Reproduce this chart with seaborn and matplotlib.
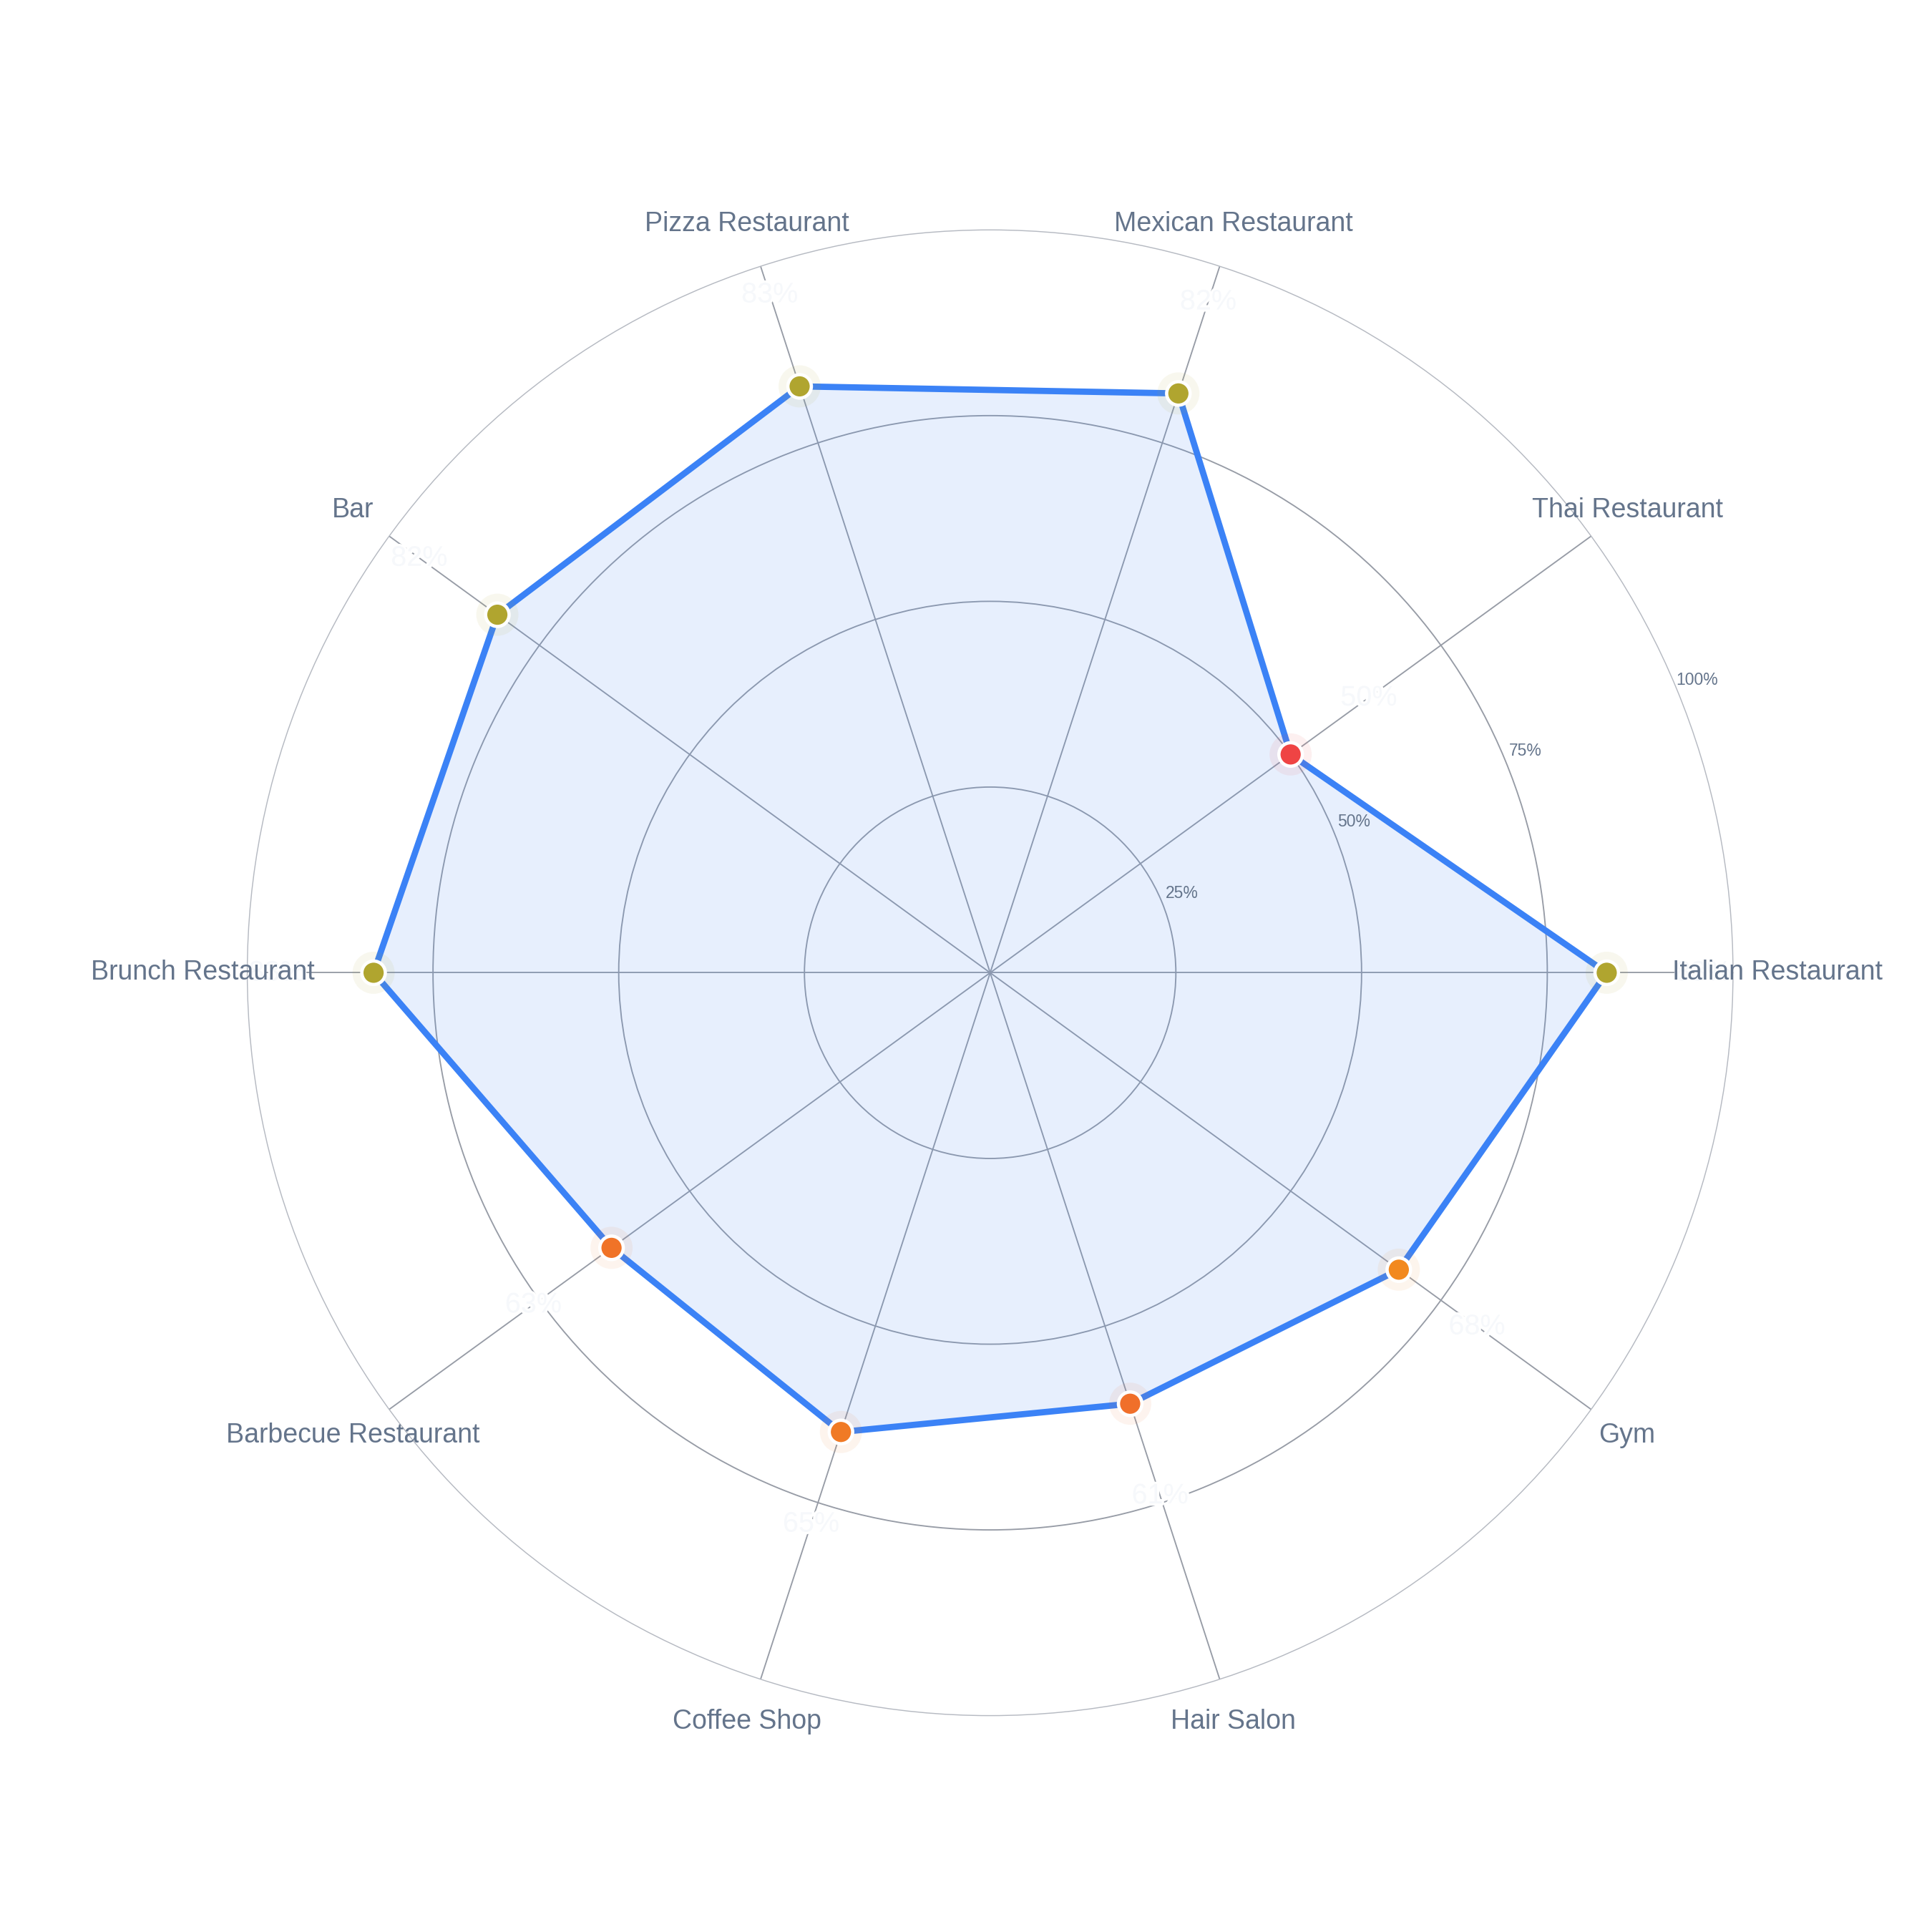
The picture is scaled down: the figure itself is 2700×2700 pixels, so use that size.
import numpy as np
import matplotlib
matplotlib.use("Agg")
import matplotlib.pyplot as plt
import matplotlib.patheffects as pe
import seaborn as sns

# data
categories = ["Italian Restaurant", "Thai Restaurant", "Mexican Restaurant", "Pizza Restaurant",
              "Bar", "Brunch Restaurant", "Barbecue Restaurant", "Coffee Shop", "Hair Salon", "Gym"]
values = [83, 50, 82, 83, 82, 83, 63, 65, 61, 68]
point_colors = ["#B0A52F", "#EF4444", "#B0A52F", "#B0A52F", "#B0A52F", "#B0A52F",
                "#F07327", "#F07A25", "#F06F2A", "#F2891E"]
radial_ticks = [25, 50, 75, 100]
radial_labels = ["25%", "50%", "75%", "100%"]

sns.set_theme(style="white")
plt.rcParams["font.family"] = ["Liberation Sans", "DejaVu Sans"]

label_col = "#64748b"
grid_col = "#979ca6"
line_col = "#3B82F6"

fig = plt.figure(figsize=(9, 9), dpi=300)
ax = fig.add_axes([0.128, 0.112, 0.769, 0.769], projection="polar")

angles = np.deg2rad(np.arange(len(categories)) * 360 / len(categories))
a_closed = np.append(angles, angles[0])
v_closed = np.append(values, values[0])

ax.set_ylim(0, 100)
ax.set_yticks(radial_ticks[:-1])
ax.set_yticklabels([])
ax.set_xticks(angles)
ax.set_xticklabels([])
ax.grid(True, color=grid_col, linewidth=0.45)
ax.spines["polar"].set_color("#b6bac2")
ax.spines["polar"].set_linewidth(0.35)
ax.set_facecolor("white")

# filled area + outline
ax.fill(a_closed, v_closed, color=line_col, alpha=0.12, linewidth=0, zorder=2)
ax.plot(a_closed, v_closed, color=line_col, linewidth=2.1, zorder=3, solid_joinstyle="miter")

# faint halo behind markers, then the markers
ax.scatter(angles, values, s=200, c=point_colors, alpha=0.08, linewidths=0, zorder=4)
sns.scatterplot(x=angles, y=values, hue=categories, palette=point_colors, ax=ax,
                legend=False, s=62, edgecolor="white", linewidth=1.1, zorder=5)
ax.set_xlabel("")
ax.set_ylabel("")

# faint value labels
for a, v in zip(angles, values):
    ax.text(a, v + 13, f"{v}%", ha="center", va="center", fontsize=9.5,
            color="#f6f8fb", zorder=6,
            path_effects=[pe.withStroke(linewidth=1.5, foreground="white")])

# category labels
for a, c in zip(angles, categories):
    ax.text(a, 106, c, ha="center", va="center", fontsize=9, color=label_col, clip_on=False, zorder=7)

# radial tick labels
tick_ang = np.deg2rad(22.5)
for t, lab in zip(radial_ticks, radial_labels):
    ax.text(tick_ang, t + 3, lab, ha="center", va="center", fontsize=5.5, color=label_col, zorder=6)

fig.savefig("out.png", dpi=300, facecolor="white")
